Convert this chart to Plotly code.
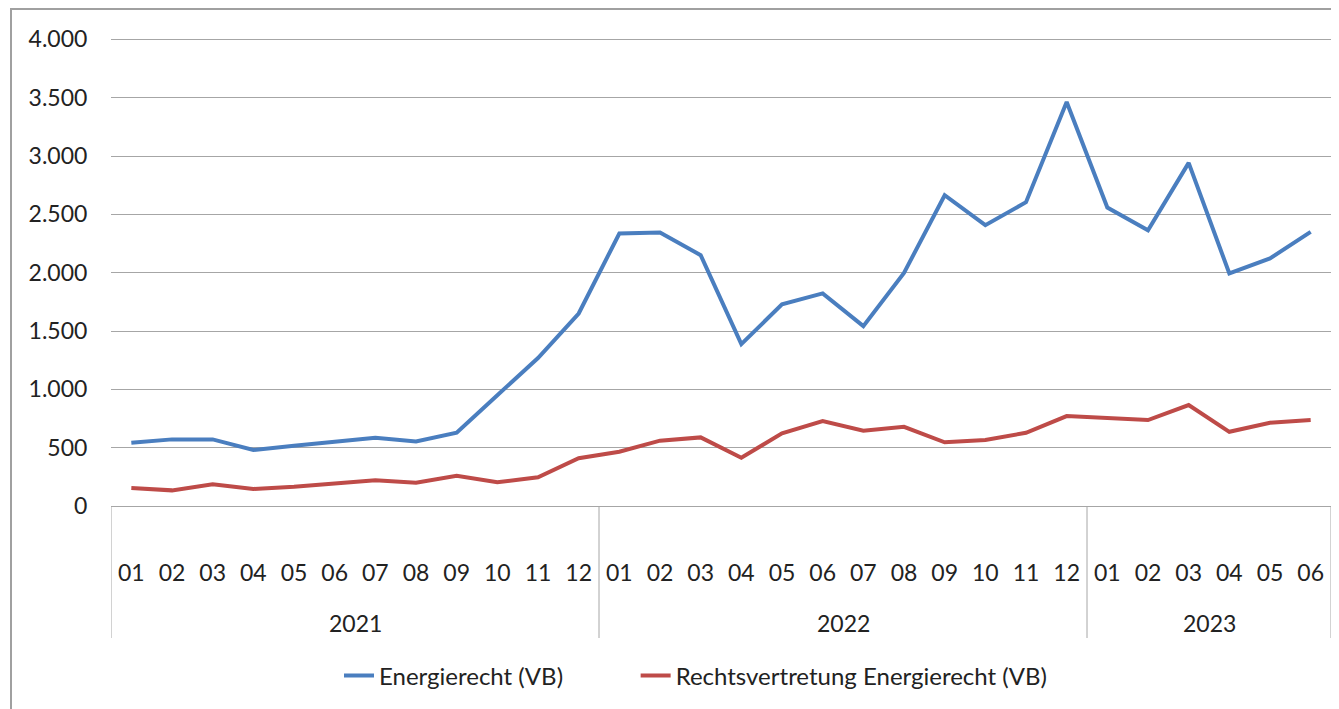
import plotly.graph_objects as go

years = ["2021"] * 12 + ["2022"] * 12 + ["2023"] * 6
months = ["01", "02", "03", "04", "05", "06", "07", "08", "09", "10", "11", "12",
          "01", "02", "03", "04", "05", "06", "07", "08", "09", "10", "11", "12",
          "01", "02", "03", "04", "05", "06"]

energierecht = [542, 571, 571, 480, 516, 551, 585, 554, 628, 950, 1268, 1650,
                2336, 2344, 2150, 1388, 1728, 1822, 1542, 1998, 2664, 2407, 2604, 3463,
                2558, 2364, 2941, 1993, 2122, 2350]
rechtsvertretung = [154, 134, 186, 146, 165, 194, 220, 200, 260, 203, 246, 409,
                    465, 560, 588, 414, 623, 728, 645, 679, 546, 565, 628, 771,
                    751, 737, 865, 636, 714, 737]

FONT = "Lato"
GRID = "#A6A6A6"
TXT = "#222222"

categories = [f"{y}-{m}" for y, m in zip(years, months)]
n = len(categories)

# year groups: first/last category index of each year
groups = []
for i, y in enumerate(years):
    if not groups or groups[-1][0] != y:
        groups.append([y, i, i])
    else:
        groups[-1][2] = i

fig = go.Figure()
fig.add_trace(go.Scatter(x=categories, y=energierecht, mode="lines",
                         name="Energierecht (VB)" + "\u00a0" * 11,
                         line=dict(color="#4A7EBF", width=4)))
fig.add_trace(go.Scatter(x=categories, y=rechtsvertretung, mode="lines",
                         name="Rechtsvertretung Energierecht (VB)",
                         line=dict(color="#BE4B48", width=4)))

PH = 469  # plot height in px
DIV_BOTTOM = -(638 - 506) / PH
YEAR_Y = -(623 - 506) / PH

shapes = [dict(type="rect", xref="paper", yref="paper",
               x0=-100 / 1220, x1=1.2, y0=-1.0, y1=1 + 28 / PH,
               line=dict(color="#A0A0A0", width=2), fillcolor="rgba(0,0,0,0)",
               layer="below")]
bounds = [groups[0][1] - 0.5] + [g[2] + 0.5 for g in groups]
for b in bounds:
    shapes.append(dict(type="line", xref="x", yref="paper", x0=b, x1=b,
                       y0=0, y1=DIV_BOTTOM, line=dict(color=GRID, width=1)))

annotations = [dict(x=(g[1] + g[2]) / 2, y=YEAR_Y, xref="x", yref="paper",
                    text=g[0], showarrow=False, xanchor="center", yanchor="middle",
                    font=dict(family=FONT, size=23, color=TXT))
               for g in groups]

fig.update_layout(
    width=1339, height=709,
    margin=dict(l=103, r=16, t=29, b=211, autoexpand=False),
    paper_bgcolor="white", plot_bgcolor="white",
    separators=",.",
    font=dict(family=FONT, size=23, color=TXT),
    showlegend=True,
    legend=dict(orientation="h", x=(339 - 111) / 1220, xanchor="left",
                y=-170 / PH, yanchor="middle",
                font=dict(family=FONT, size=24, color=TXT)),
    xaxis=dict(type="category", range=[-0.5, n - 0.5], automargin=False,
               tickmode="array", tickvals=categories, ticktext=months,
               showgrid=False, showline=True, linecolor=GRID, linewidth=1,
               ticks="", ticklabelstandoff=46,
               tickfont=dict(family=FONT, size=23, color=TXT)),
    yaxis=dict(range=[0, 4020], dtick=500, tickformat=",d", showgrid=True,
               automargin=False,
               gridcolor=GRID, gridwidth=1, zeroline=False, showline=False,
               ticks="outside", ticklen=18, tickcolor="rgba(0,0,0,0)",
               tickfont=dict(family=FONT, size=23, color=TXT)),
    shapes=shapes,
    annotations=annotations,
)

fig.write_html("out.html")
